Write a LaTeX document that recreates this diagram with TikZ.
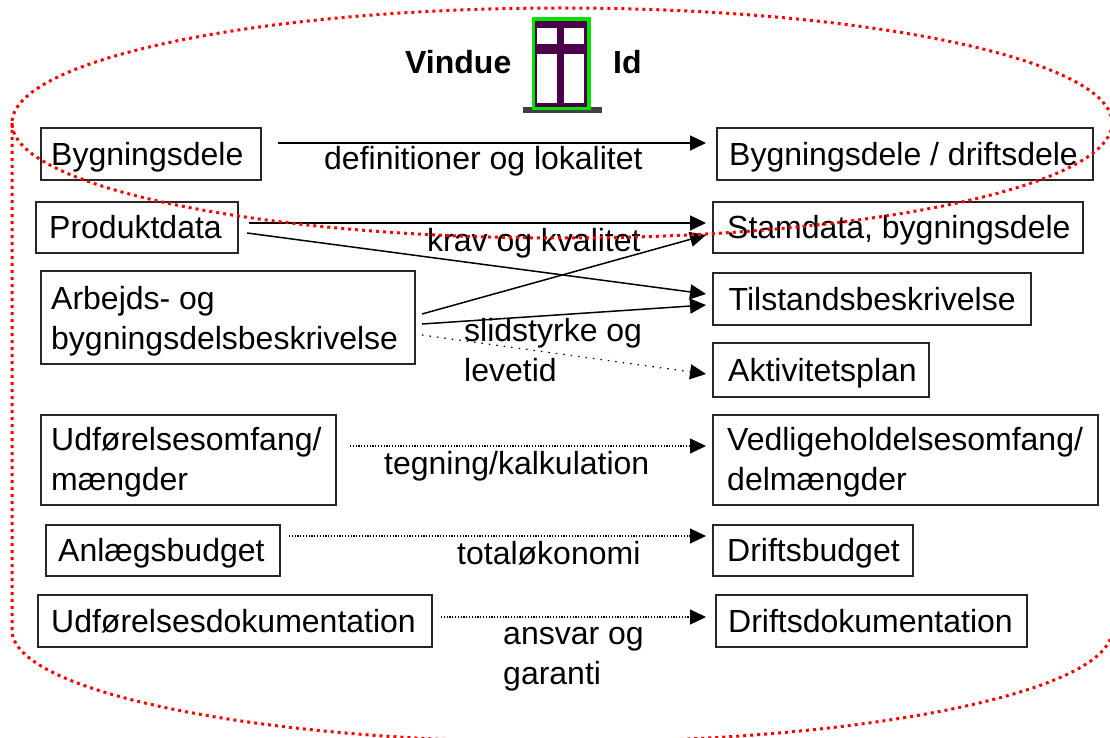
\documentclass[tikz,border=0pt]{standalone}
\usepackage{fontspec}
\setmainfont{Liberation Sans}
\usetikzlibrary{arrows.meta}
\tikzset{
  x=1pt,y=-1pt,
  lbl/.style={anchor=west,align=left,inner sep=0pt},
  boxline/.style={draw=black!85,line width=1.6pt},
  cn/.style={draw=black,line width=1.5pt,-{Triangle[length=16pt,width=15pt]}},
  dn/.style={draw=black,line width=1.2pt,dash pattern=on 1.2pt off 1.6pt,-{Triangle[length=16pt,width=15pt]}},
  dnb/.style={dn,dash pattern=on 1.5pt off 6pt},
  redline/.style={draw=red,line width=3pt,dash pattern=on 3pt off 4pt},
  head/.style={font=\fontsize{32}{38}\selectfont\bfseries,anchor=west,inner sep=0pt},
}
% name, left, top, right, bottom, text x, text centre y, text
\newcommand{\bxn}[8]{\draw[boxline] (#2,#3) rectangle (#4,#5); \node[lbl] (#1) at (#6,#7) {#8};}
\begin{document}
\begin{tikzpicture}[font=\fontsize{32}{40}\selectfont]
\useasboundingbox (0,0) rectangle (1110,738);
\fill[white] (0,0) rectangle (1110,738);
\clip (0,0) rectangle (1110,738);
% window
\fill[black!75] (523,107) rectangle (602,113);
\fill[violet!60!black] (535,20) rectangle (587,107);
\fill[white] (537,28) rectangle (557,44);
\fill[white] (564,28) rectangle (584,44);
\fill[white] (537,54) rectangle (557,103);
\fill[white] (564,54) rectangle (584,103);
\draw[green!90!black,line width=3.5pt] (533.5,19) rectangle (589,108.5);
\node[head] (t1) at (405,62) {Vindue};
\node[head] (t2) at (613,62) {Id};
% boxes
\bxn{a}{41}{128}{261}{180}{51}{157}{Bygningsdele}
\bxn{b}{36}{202}{238}{253}{49}{227.5}{Produktdata}
\bxn{c}{41}{271}{415}{364}{51}{321.5}{Arbejds- og\\bygningsdelsbeskrivelse}
\bxn{d}{41}{415}{336}{505}{51}{462}{Udførelsesomfang/\\mængder}
\bxn{e}{46}{525}{280}{576}{58}{553.5}{Anlægsbudget}
\bxn{f}{38}{595}{432}{647}{51}{621}{Udførelsesdokumentation}
\bxn{g}{717}{128}{1093}{180}{729}{157}{Bygningsdele / driftsdele}
\bxn{h}{713}{202}{1083}{253}{727}{230.5}{Stamdata, bygningsdele}
\bxn{i}{713}{273}{1031}{325}{728.5}{299}{Tilstandsbeskrivelse}
\bxn{j}{713}{343}{929}{397}{728}{373}{Aktivitetsplan}
\bxn{k}{713}{415}{1098}{505}{727}{462}{Vedligeholdelsesomfang/\\delmængder}
\bxn{l}{713}{525}{913}{576}{727}{553.5}{Driftsbudget}
\bxn{m}{716}{595}{1027}{647}{728}{621}{Driftsdokumentation}
% connector ends
\coordinate (a1) at (278,143); \coordinate (a2) at (706,143);
\coordinate (b1) at (249,223); \coordinate (b2) at (706,223);
\coordinate (b3) at (247,233); \coordinate (b4) at (706,294);
\coordinate (c1) at (422,314); \coordinate (c2) at (706,235);
\coordinate (c3) at (422,324); \coordinate (c4) at (706,305);
\coordinate (c5) at (422,335); \coordinate (c6) at (706,374);
\coordinate (d1) at (350,446); \coordinate (d2) at (706,446);
\coordinate (e1) at (289,536); \coordinate (e2) at (706,536);
\coordinate (f1) at (441,617); \coordinate (f2) at (706,617);
\draw[cn] (a1) -- (a2);
\draw[cn] (b1) -- (b2);
\draw[cn] (b3) -- (b4);
\draw[cn] (c1) -- (c2);
\draw[cn] (c3) -- (c4);
\draw[dnb] (c5) -- (c6);
\draw[dn] (d1) -- (d2);
\draw[dn] (e1) -- (e2);
\draw[dn] (f1) -- (f2);
% labels
\node[lbl] (la) at (324,161) {definitioner og lokalitet};
\node[lbl] (lb) at (427,243) {krav og kvalitet};
\node[lbl] (lc) at (464,350) {slidstyrke og\\levetid};
\node[lbl] (ld) at (384,466) {tegning/kalkulation};
\node[lbl] (le) at (457,553) {totaløkonomi};
\node[lbl] (lf) at (503,659) {ansvar og\\garanti};
% red outline
\draw[redline] (562,123) ellipse [x radius=550,y radius=115];
\draw[redline] (12,123) -- (12,630) arc [start angle=180,end angle=360,x radius=550,y radius=-112];
\end{tikzpicture}
\end{document}
